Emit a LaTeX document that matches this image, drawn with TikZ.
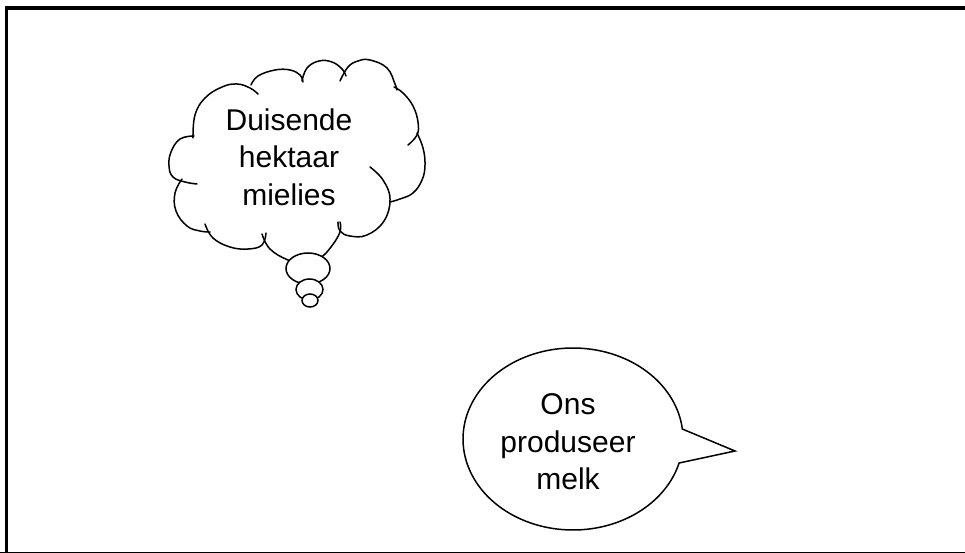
\documentclass[tikz,border=0pt]{standalone}
\usepackage{fontspec}
\setmainfont{Liberation Sans}
\begin{document}
\begin{tikzpicture}[x=1pt,y=-1pt,
  puff/.style={line width=1.5pt, line cap=round},
  bub/.style={line width=1.5pt, fill=white},
  txt/.style={align=center, font=\fontsize{30pt}{37.5pt}\selectfont, inner sep=0pt}]
\useasboundingbox (0,0) rectangle (965,553);
% frame
\draw[line width=3.8pt] (6.5,553.5) -- (6.5,7.7) -- (980,7.7);
\draw[line width=3.8pt] (0,553.8) -- (980,553.8);
% cloud puffs
\draw[puff] plot[smooth, tension=0.7] coordinates {(194,136) (180,139) (171,152) (169,166) (173,177) (185,182) (197,184)};
\draw[puff] plot[smooth, tension=0.7] coordinates {(182,179) (175,193) (176,211) (187,226) (200,231) (210,232)};
\draw[puff] plot[smooth, tension=0.7] coordinates {(205,224) (213,238) (230,247) (248,249) (262,245) (266,233)};
\draw[puff] plot[smooth, tension=0.7] coordinates {(262,234) (270,249) (288,260) (305,264) (320,258) (331,247) (340,232) (340,222)};
\draw[puff] plot[smooth, tension=0.7] coordinates {(370,167) (383,180) (390,199) (384,221) (367,235) (350,236) (340,231) (338,222)};
\draw[puff] plot[smooth, tension=0.7] coordinates {(417,133) (423,148) (425,165) (422,180) (413,193) (400,199) (390,202)};
\draw[puff] plot[smooth, tension=0.7] coordinates {(394,87) (403,93) (413,106) (418,122) (417,135) (408,145)};
\draw[puff] plot[smooth, tension=0.7] coordinates {(340,81) (348,67) (358,61) (370,60) (387,68) (395,84) (397,90)};
\draw[puff] plot[smooth, tension=0.7] coordinates {(302,81) (307,68) (319,61) (332,62) (342,69) (346,76)};
\draw[puff] plot[smooth, tension=0.7] coordinates {(251,85) (258,76) (275,70) (290,70) (300,75) (303,82)};
\draw[puff] plot[smooth, tension=0.7] coordinates {(193,138) (195,115) (205,98) (222,87) (237,84) (250,88) (258,94)};
% thought bubbles
\draw[bub] (308,268.5) ellipse [x radius=22, y radius=15.5];
\draw[bub] (309.5,289.5) ellipse [x radius=13.5, y radius=10.5];
\draw[bub] (310,300.5) ellipse [x radius=8, y radius=6.5];
\node[txt] (thought) at (289,157) {Duisende\\hektaar\\mielies};
% speech bubble
\draw[bub, line join=miter] plot[domain=15.3:353.7, samples=140, variable=\t] ({573+110*cos(\t)},{439+91*sin(\t)}) -- (735,451) -- cycle;
\node[txt] (speech) at (568,442) {Ons\\produseer\\melk};
\end{tikzpicture}
\end{document}
